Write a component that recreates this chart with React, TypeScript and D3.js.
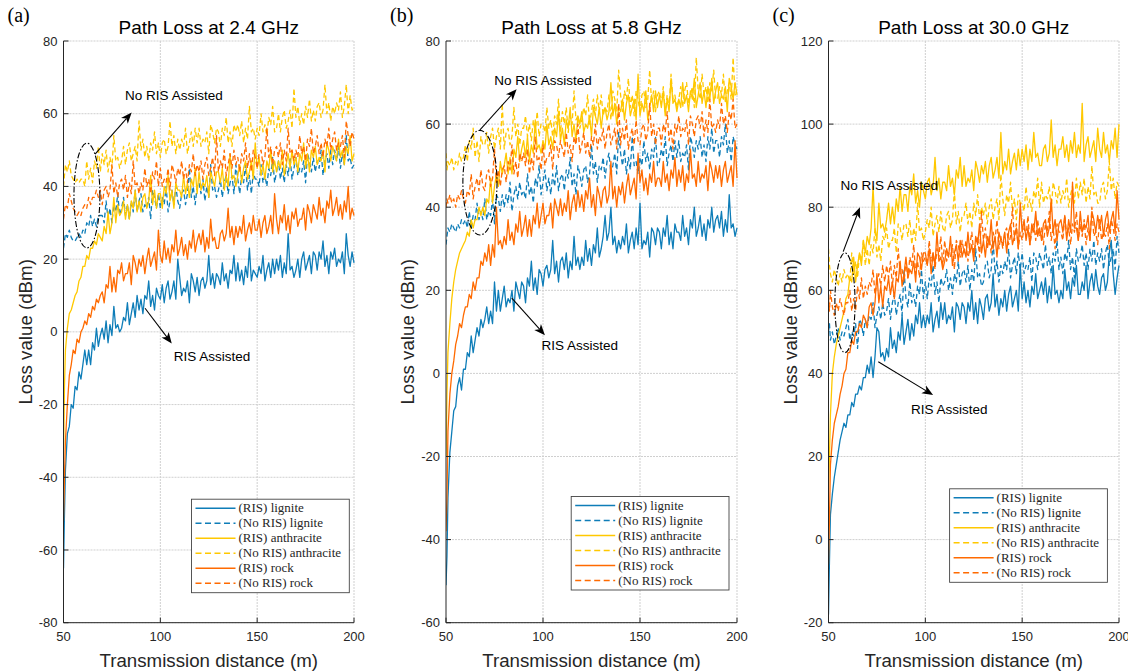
import React from "react";
import * as d3 from "d3";

// distances (m): a few dense samples near the transmitter, then every 1 m
const nearDistance = [50, 50.5, 51, 52, 53, 54, 55, 56, 57, 58, 59];
const distance = [...nearDistance, ...d3.range(60, 201, 1)];

const seriesNames = [
  "(RIS) lignite",
  "(No RIS) lignite",
  "(RIS) anthracite",
  "(No RIS) anthracite",
  "(RIS) rock",
  "(No RIS) rock",
];

const xTicks = [50, 100, 150, 200];
const yTicksA = [-80, -60, -40, -20, 0, 20, 40, 60, 80];
const yTicksB = [-60, -40, -20, 0, 20, 40, 60, 80];
const yTicksC = [-20, 0, 20, 40, 60, 80, 100, 120];

// ---- (a) 2.4 GHz ----
const aRisLignite = [
  -65, -50, -38, -28, -26, -20, -21, -15, -16, -11, -13,
  -9, -5, -9, -5, -9, -3, -5, 1, -4, -1,
  1, -2, 3, -3, 2, -1, 7, 1, 2, 0,
  1, 4, 3, 8, 2, 5, 8, 4, 10, 6,
  9, 5, 10, 9, 14, 7, 10, 6, 12, 10,
  9, 13, 8, 12, 14, 9, 11, 14, 9, 20,
  15, 10, 12, 11, 14, 8, 16, 14, 11, 15,
  10, 14, 15, 12, 14, 21, 13, 16, 12, 16,
  15, 13, 19, 14, 16, 12, 17, 16, 21, 14,
  19, 14, 17, 13, 18, 15, 23, 14, 17, 16,
  15, 18, 16, 21, 14, 17, 19, 15, 20, 16,
  20, 17, 21, 15, 19, 16, 27, 17, 18, 15,
  17, 20, 15, 20, 22, 17, 19, 21, 16, 22,
  21, 17, 22, 20, 25, 18, 21, 16, 22, 20,
  23, 18, 20, 19, 22, 16, 27, 21, 18, 22,
  19,
];
const aNoLignite = [
  23, 25, 27, 26, 28, 26, 25, 25, 26, 27, 26,
  28, 27, 30, 29, 32, 29, 31, 29, 32, 32,
  32, 30, 36, 31, 34, 30, 35, 33, 38, 32,
  34, 37, 32, 35, 31, 36, 33, 39, 33, 36,
  38, 33, 35, 34, 37, 31, 39, 37, 34, 38,
  34, 37, 35, 40, 33, 36, 39, 35, 40, 36,
  34, 38, 39, 35, 38, 45, 37, 40, 35, 40,
  41, 38, 42, 36, 40, 37, 46, 39, 40, 37,
  39, 42, 37, 41, 43, 38, 41, 43, 38, 46,
  42, 38, 43, 41, 46, 39, 43, 38, 44, 42,
  42, 40, 46, 41, 43, 40, 45, 43, 48, 41,
  44, 47, 42, 45, 41, 46, 43, 48, 42, 45,
  48, 43, 45, 44, 47, 41, 49, 47, 44, 48,
  44, 47, 45, 50, 43, 47, 49, 45, 50, 46,
  50, 47, 51, 45, 49, 46, 54, 47, 48, 45,
  46,
];
const aRisAnthracite = [
  -35, -15, -5, 1, 5, 6, 8, 10, 11, 14, 15,
  18, 18, 21, 20, 23, 23, 25, 24, 27, 26,
  25, 29, 27, 33, 27, 30, 37, 30, 35, 32,
  33, 36, 31, 35, 31, 36, 34, 39, 33, 36,
  33, 37, 38, 34, 36, 43, 35, 39, 34, 38,
  38, 34, 40, 38, 43, 36, 39, 34, 41, 39,
  39, 37, 43, 38, 41, 37, 42, 40, 45, 38,
  44, 39, 41, 40, 43, 37, 44, 42, 40, 44,
  44, 41, 45, 39, 43, 40, 49, 42, 43, 40,
  43, 46, 41, 45, 47, 42, 44, 47, 42, 52,
  45, 48, 43, 46, 42, 47, 45, 50, 44, 47,
  44, 47, 45, 50, 43, 46, 49, 45, 50, 46,
  48, 44, 49, 47, 52, 45, 49, 44, 50, 48,
  51, 46, 48, 47, 50, 44, 52, 50, 47, 51,
  49, 47, 53, 48, 50, 46, 51, 49, 54, 47,
  49,
];
const aNoAnthracite = [
  40, 43, 46, 44, 47, 43, 42, 41, 42, 41, 42,
  42, 40, 47, 42, 45, 41, 47, 45, 51, 44,
  49, 46, 50, 44, 48, 45, 54, 47, 48, 45,
  47, 51, 46, 50, 52, 47, 49, 51, 47, 58,
  50, 53, 48, 51, 47, 52, 50, 55, 49, 52,
  48, 52, 53, 49, 51, 58, 51, 54, 49, 53,
  50, 53, 51, 56, 49, 52, 55, 51, 56, 52,
  56, 51, 53, 52, 55, 49, 57, 55, 52, 56,
  55, 51, 56, 54, 59, 52, 55, 51, 57, 55,
  57, 54, 58, 52, 56, 53, 62, 55, 56, 53,
  56, 54, 60, 55, 57, 54, 59, 57, 62, 55,
  56, 60, 55, 59, 61, 56, 58, 61, 56, 67,
  59, 62, 57, 60, 57, 62, 59, 64, 58, 61,
  58, 62, 63, 59, 61, 68, 60, 63, 58, 62,
  60, 63, 61, 66, 59, 62, 68, 60, 65, 61,
  62,
];
const aRisRock = [
  -52, -40, -30, -20, -12, -9, -5, -6, -2, -3, 0,
  1, 3, 2, 5, 4, 7, 6, 9, 8, 10,
  11, 8, 13, 12, 18, 11, 15, 11, 17, 16,
  19, 14, 16, 16, 19, 13, 21, 19, 16, 20,
  18, 21, 16, 20, 23, 18, 20, 22, 17, 28,
  21, 19, 25, 20, 23, 19, 24, 22, 28, 21,
  23, 26, 21, 24, 20, 25, 23, 28, 22, 25,
  27, 24, 28, 22, 26, 23, 31, 25, 26, 23,
  23, 27, 28, 25, 27, 34, 26, 29, 24, 29,
  26, 29, 27, 32, 25, 28, 30, 27, 32, 28,
  28, 31, 26, 30, 32, 27, 29, 32, 27, 38,
  31, 27, 32, 30, 35, 28, 32, 27, 33, 31,
  34, 29, 31, 31, 34, 28, 35, 33, 30, 35,
  33, 31, 37, 32, 34, 30, 36, 34, 39, 32,
  34, 37, 32, 35, 31, 36, 33, 40, 31, 34,
  32,
];
const aNoRock = [
  31, 33, 35, 34, 38, 36, 34, 33, 32, 33, 32,
  34, 35, 34, 37, 35, 37, 37, 39, 37, 39,
  35, 39, 40, 37, 39, 46, 38, 41, 37, 41,
  42, 39, 43, 37, 41, 38, 47, 40, 41, 38,
  41, 39, 45, 40, 42, 38, 44, 42, 47, 40,
  45, 40, 42, 41, 45, 39, 46, 44, 41, 45,
  43, 47, 42, 45, 41, 46, 44, 49, 43, 46,
  44, 47, 42, 46, 48, 43, 45, 48, 43, 54,
  44, 47, 45, 50, 43, 46, 49, 45, 50, 46,
  48, 44, 49, 47, 52, 45, 49, 44, 50, 48,
  45, 49, 50, 46, 48, 56, 48, 51, 46, 50,
  51, 48, 52, 46, 50, 47, 56, 49, 50, 47,
  50, 48, 54, 49, 51, 47, 53, 51, 56, 49,
  51, 54, 49, 52, 48, 53, 51, 56, 50, 53,
  55, 50, 52, 51, 54, 48, 58, 54, 51, 55,
  53,
];

// ---- (b) 5.8 GHz ----
const bRisLignite = [
  -51, -44, -30, -19, -14, -9, -8, -3, -1, -4, 1,
  1, 5, 4, 9, 5, 8, 11, 9, 13, 11,
  13, 16, 12, 15, 12, 22, 15, 20, 15, 18,
  21, 16, 18, 17, 20, 15, 22, 20, 18, 22,
  21, 17, 23, 21, 27, 20, 23, 19, 25, 24,
  21, 25, 26, 23, 25, 32, 24, 27, 22, 27,
  28, 25, 29, 23, 27, 25, 33, 26, 28, 25,
  28, 26, 32, 27, 30, 26, 31, 29, 35, 28,
  30, 33, 38, 32, 34, 40, 31, 33, 29, 32,
  30, 33, 31, 36, 29, 32, 34, 30, 35, 31,
  41, 30, 32, 31, 34, 28, 35, 34, 31, 35,
  34, 30, 35, 33, 38, 31, 34, 30, 36, 34,
  34, 32, 38, 33, 35, 31, 37, 35, 40, 33,
  35, 38, 33, 36, 32, 37, 35, 40, 34, 37,
  38, 35, 39, 33, 37, 34, 43, 35, 36, 33,
  35,
];
const bNoLignite = [
  31, 33, 35, 34, 36, 35, 34, 36, 35, 37, 36,
  37, 35, 39, 35, 38, 37, 41, 37, 39, 37,
  42, 37, 39, 38, 42, 36, 43, 42, 39, 43,
  40, 43, 41, 46, 39, 43, 45, 42, 46, 43,
  44, 42, 48, 43, 45, 41, 47, 45, 50, 43,
  46, 49, 44, 47, 43, 48, 45, 50, 44, 47,
  48, 44, 49, 47, 52, 45, 48, 43, 50, 48,
  45, 49, 50, 46, 48, 55, 48, 51, 46, 50,
  49, 52, 47, 51, 53, 48, 50, 53, 48, 58,
  53, 50, 54, 48, 52, 49, 57, 50, 51, 48,
  52, 50, 56, 51, 53, 49, 54, 52, 57, 50,
  51, 54, 52, 57, 50, 53, 55, 51, 56, 52,
  56, 51, 53, 52, 55, 49, 57, 55, 52, 56,
  54, 57, 52, 55, 51, 57, 54, 59, 53, 56,
  56, 52, 57, 55, 60, 53, 56, 51, 57, 55,
  54,
];
const bRisAnthracite = [
  -20, -5, 5, 12, 18, 22, 25, 27, 29, 30, 31,
  32, 34, 33, 37, 35, 37, 37, 40, 38, 40,
  38, 42, 41, 47, 41, 45, 48, 45, 51, 48,
  50, 53, 48, 52, 48, 54, 52, 57, 51, 54,
  56, 52, 57, 51, 55, 53, 61, 54, 55, 53,
  56, 54, 60, 55, 57, 54, 59, 57, 63, 56,
  59, 55, 61, 59, 64, 57, 60, 56, 62, 60,
  63, 58, 60, 59, 62, 57, 64, 62, 60, 64,
  59, 63, 64, 61, 63, 70, 62, 65, 60, 64,
  63, 66, 61, 65, 67, 62, 64, 66, 61, 72,
  62, 65, 63, 68, 61, 64, 67, 63, 68, 64,
  67, 64, 68, 62, 66, 63, 71, 65, 66, 63,
  66, 64, 70, 65, 67, 63, 68, 66, 71, 64,
  67, 70, 65, 68, 64, 69, 66, 71, 65, 68,
  70, 65, 67, 66, 69, 63, 71, 69, 66, 70,
  67,
];
const bNoAnthracite = [
  53, 49, 51, 50, 52, 49, 51, 50, 53, 51, 52,
  55, 51, 56, 54, 59, 52, 56, 51, 57, 55,
  55, 58, 53, 57, 59, 54, 57, 59, 54, 65,
  54, 58, 59, 55, 57, 64, 57, 60, 55, 59,
  59, 62, 57, 60, 56, 61, 58, 63, 57, 60,
  60, 58, 64, 59, 61, 57, 62, 60, 66, 58,
  63, 60, 64, 58, 62, 60, 68, 61, 62, 59,
  61, 64, 62, 67, 60, 63, 66, 62, 67, 63,
  67, 62, 64, 63, 67, 61, 68, 66, 63, 73,
  67, 63, 68, 66, 71, 64, 67, 62, 68, 66,
  63, 67, 68, 64, 66, 73, 65, 68, 63, 67,
  68, 65, 69, 63, 67, 64, 72, 66, 67, 64,
  66, 69, 64, 68, 70, 65, 67, 69, 64, 76,
  68, 66, 72, 67, 69, 65, 70, 68, 73, 66,
  66, 69, 67, 72, 65, 68, 70, 66, 76, 67,
  68,
];
const bRisRock = [
  -38, -30, -14, -5, 0, 3, 7, 9, 12, 11, 14,
  16, 16, 19, 18, 22, 20, 23, 23, 27, 26,
  29, 27, 31, 26, 31, 28, 40, 31, 32, 30,
  33, 31, 37, 32, 34, 31, 36, 34, 39, 33,
  35, 38, 33, 37, 33, 38, 36, 41, 35, 38,
  41, 36, 38, 38, 41, 35, 42, 40, 38, 42,
  38, 41, 39, 44, 37, 41, 43, 39, 44, 40,
  43, 39, 44, 42, 47, 40, 43, 38, 45, 43,
  40, 44, 45, 41, 43, 51, 42, 45, 40, 45,
  43, 46, 41, 45, 48, 43, 45, 47, 42, 53,
  46, 49, 44, 47, 43, 48, 46, 51, 45, 47,
  47, 45, 51, 46, 48, 44, 49, 47, 52, 45,
  49, 46, 50, 44, 48, 46, 54, 47, 48, 45,
  51, 46, 48, 47, 50, 44, 51, 49, 46, 50,
  47, 50, 45, 49, 51, 46, 48, 50, 45, 56,
  47,
];
const bNoRock = [
  40, 42, 41, 43, 41, 42, 40, 43, 42, 44, 42,
  41, 44, 43, 48, 42, 45, 47, 44, 49, 45,
  44, 48, 49, 45, 47, 54, 46, 49, 45, 49,
  50, 46, 51, 49, 55, 48, 51, 47, 53, 51,
  53, 50, 54, 48, 52, 49, 57, 51, 52, 49,
  55, 50, 52, 52, 55, 49, 56, 55, 52, 56,
  54, 52, 58, 53, 55, 51, 57, 55, 60, 53,
  55, 58, 53, 56, 52, 57, 55, 60, 54, 57,
  56, 59, 54, 58, 60, 55, 57, 59, 54, 65,
  55, 59, 56, 61, 54, 57, 59, 55, 61, 56,
  55, 59, 60, 56, 58, 65, 57, 60, 55, 59,
  59, 55, 60, 58, 63, 56, 59, 54, 60, 58,
  62, 57, 59, 58, 61, 55, 62, 60, 57, 61,
  62, 59, 63, 57, 61, 58, 66, 59, 60, 58,
  61, 59, 65, 60, 62, 58, 63, 61, 66, 59,
  60,
];

// ---- (c) 30.0 GHz ----
const cRisLignite = [
  -18, -5, 6, 11, 15, 18, 21, 24, 26, 28, 27,
  30, 30, 33, 32, 35, 35, 37, 36, 39, 39,
  42, 40, 44, 39, 44, 51, 50, 44, 45, 43,
  46, 44, 51, 46, 48, 45, 50, 48, 54, 47,
  50, 53, 48, 52, 49, 54, 52, 57, 51, 54,
  51, 54, 52, 57, 50, 53, 55, 51, 57, 53,
  57, 52, 54, 53, 56, 50, 57, 56, 53, 57,
  56, 52, 57, 55, 60, 53, 57, 52, 58, 56,
  53, 58, 59, 55, 57, 64, 56, 59, 54, 58,
  56, 60, 55, 59, 61, 56, 58, 60, 55, 66,
  58, 62, 57, 60, 56, 61, 59, 64, 58, 60,
  62, 59, 63, 57, 61, 58, 66, 59, 60, 57,
  60, 58, 65, 60, 62, 58, 63, 61, 66, 59,
  59, 62, 60, 66, 58, 62, 64, 60, 65, 61,
  59, 63, 64, 60, 62, 69, 72, 64, 59, 63,
  66,
];
const cNoLignite = [
  50, 52, 48, 50, 47, 49, 51, 48, 50, 49, 51,
  53, 48, 50, 49, 52, 46, 53, 52, 49, 53,
  51, 54, 53, 57, 51, 54, 56, 53, 57, 54,
  55, 58, 53, 57, 59, 54, 57, 59, 54, 65,
  58, 56, 62, 57, 59, 56, 61, 59, 65, 58,
  62, 58, 63, 61, 66, 59, 62, 57, 63, 61,
  62, 65, 60, 63, 59, 64, 62, 67, 61, 64,
  65, 62, 66, 60, 65, 62, 70, 63, 64, 61,
  62, 66, 67, 63, 65, 72, 64, 67, 62, 66,
  64, 67, 65, 70, 63, 66, 68, 64, 69, 65,
  69, 64, 66, 65, 68, 62, 69, 68, 65, 69,
  67, 65, 71, 66, 68, 64, 69, 67, 72, 65,
  68, 64, 69, 67, 72, 65, 68, 63, 70, 67,
  68, 71, 66, 69, 65, 70, 67, 72, 66, 69,
  67, 70, 65, 69, 71, 66, 68, 70, 65, 73,
  69,
];
const cRisAnthracite = [
  12, 20, 30, 40, 44, 47, 49, 51, 53, 55, 58,
  59, 63, 62, 68, 62, 66, 69, 66, 72, 69,
  73, 71, 75, 85, 75, 72, 81, 75, 76, 74,
  77, 81, 76, 80, 76, 82, 79, 85, 79, 83,
  83, 79, 85, 83, 88, 81, 84, 80, 86, 84,
  82, 86, 87, 83, 85, 92, 84, 87, 82, 86,
  86, 84, 90, 85, 87, 83, 89, 87, 92, 85,
  90, 85, 87, 86, 89, 84, 91, 89, 86, 90,
  88, 91, 86, 90, 92, 87, 89, 92, 87, 98,
  88, 91, 89, 94, 88, 91, 93, 89, 94, 90,
  94, 91, 95, 89, 94, 91, 98, 92, 93, 90,
  90, 94, 95, 91, 93, 101, 92, 95, 90, 94,
  94, 97, 92, 95, 91, 96, 93, 98, 92, 95,
  93, 105, 91, 95, 97, 92, 94, 96, 91, 99,
  94, 92, 98, 93, 95, 91, 96, 94, 99, 92,
  100,
];
const cNoAnthracite = [
  70, 66, 64, 62, 65, 63, 61, 64, 62, 65, 63,
  64, 62, 69, 64, 67, 63, 69, 67, 72, 66,
  70, 66, 71, 69, 75, 68, 71, 67, 73, 72,
  75, 70, 72, 72, 75, 69, 76, 75, 72, 76,
  76, 73, 77, 71, 75, 72, 81, 74, 75, 72,
  74, 77, 75, 80, 73, 76, 78, 74, 79, 75,
  74, 78, 79, 75, 77, 84, 76, 79, 74, 78,
  78, 81, 76, 79, 75, 81, 78, 83, 77, 80,
  78, 81, 76, 80, 82, 77, 80, 82, 77, 88,
  82, 78, 83, 81, 86, 79, 82, 77, 83, 81,
  81, 79, 85, 80, 82, 79, 84, 82, 87, 80,
  86, 81, 83, 82, 85, 79, 86, 84, 81, 85,
  81, 84, 82, 87, 80, 83, 85, 81, 87, 82,
  86, 83, 87, 81, 85, 82, 90, 83, 84, 81,
  81, 85, 86, 82, 84, 91, 84, 87, 82, 86,
  85,
];
const cRisRock = [
  -6, 5, 18, 24, 28, 30, 32, 35, 37, 40, 41,
  45, 45, 48, 47, 50, 50, 52, 51, 54, 53,
  51, 56, 57, 54, 57, 64, 57, 61, 56, 61,
  60, 63, 59, 62, 58, 63, 62, 67, 61, 64,
  68, 63, 65, 64, 67, 62, 69, 68, 65, 69,
  69, 66, 70, 64, 69, 66, 74, 67, 68, 65,
  67, 70, 68, 73, 66, 69, 71, 67, 72, 68,
  70, 68, 74, 69, 71, 67, 73, 71, 76, 69,
  72, 68, 73, 71, 77, 70, 73, 68, 74, 72,
  71, 74, 69, 74, 76, 71, 73, 75, 70, 81,
  74, 77, 72, 75, 71, 76, 74, 79, 73, 75,
  72, 76, 77, 73, 75, 82, 74, 77, 72, 76,
  77, 74, 78, 72, 77, 74, 86, 75, 75, 72,
  79, 74, 76, 75, 78, 72, 79, 77, 74, 78,
  75, 78, 73, 77, 79, 74, 77, 79, 74, 84,
  77,
];
const cNoRock = [
  58, 55, 60, 56, 54, 57, 55, 58, 56, 54, 57,
  57, 60, 55, 58, 55, 61, 58, 63, 58, 61,
  59, 62, 61, 65, 59, 62, 64, 61, 66, 62,
  66, 63, 67, 61, 66, 63, 70, 64, 65, 62,
  67, 63, 68, 66, 71, 64, 67, 63, 69, 67,
  68, 66, 72, 67, 69, 65, 70, 68, 73, 66,
  72, 67, 69, 68, 71, 65, 72, 71, 68, 72,
  69, 72, 67, 71, 74, 69, 71, 73, 68, 79,
  72, 75, 70, 73, 69, 74, 72, 77, 70, 73,
  70, 74, 75, 71, 73, 80, 72, 76, 70, 74,
  72, 75, 73, 78, 71, 74, 76, 72, 77, 73,
  75, 71, 76, 74, 79, 72, 75, 70, 76, 74,
  74, 72, 78, 73, 75, 71, 76, 74, 79, 72,
  76, 73, 77, 71, 75, 72, 80, 73, 74, 71,
  77, 72, 74, 73, 76, 70, 77, 75, 72, 76,
  74,
];

const lineColors = ["#0e7db8", "#0e7db8", "#ffc800", "#ffc800", "#ff6a00", "#ff6a00"];
const SANS = "'Liberation Sans', Arial, Helvetica, sans-serif";
const SERIF = "'Liberation Serif', 'Times New Roman', serif";
const TOP = 41;
const BOTTOM = 622.7;

const panels = [
  {
    letter: "(a)", title: "Path Loss at 2.4 GHz", left: 63.5, right: 354,
    yDomain: [-80, 80], yTicks: yTicksA,
    series: [aRisLignite, aNoLignite, aRisAnthracite, aNoAnthracite, aRisRock, aNoRock],
    ellipse: [62.1, 37.5, 6.7, 14.4], noArrow: [66.3, 48.9, 85.2, 60.3], noText: [107, 65.1],
    risArrow: [92.1, 6.5, 105.9, -3.2], risText: [126.7, -6.6], legendInset: [4.7, 30],
  },
  {
    letter: "(b)", title: "Path Loss at 5.8 GHz", left: 446, right: 737,
    yDomain: [-60, 80], yTicks: yTicksB,
    series: [bRisLignite, bNoLignite, bRisAnthracite, bNoAnthracite, bRisRock, bNoRock],
    ellipse: [67.5, 45.9, 8.8, 12.6], noArrow: [67.5, 58.6, 86.4, 68.4], noText: [100, 70.6],
    risArrow: [83.9, 18.1, 101, 9.2], risText: [118.9, 6.8], legendInset: [8, 32.7],
  },
  {
    letter: "(c)", title: "Path Loss at 30.0 GHz", left: 828.5, right: 1119,
    yDomain: [-20, 120], yTicks: yTicksC,
    series: [cRisLignite, cNoLignite, cRisAnthracite, cNoAnthracite, cRisRock, cNoRock],
    ellipse: [58.5, 57, 5.2, 12], noArrow: [57.6, 69.3, 66.2, 80], noText: [81.4, 85.3],
    risArrow: [75.7, 42.8, 104, 34.8], risText: [112.4, 31.4], legendInset: [11.6, 40.4],
  },
];

function arrowHead(x1: number, y1: number, x2: number, y2: number) {
  const a = Math.atan2(y2 - y1, x2 - x1);
  const c = Math.cos(a), s = Math.sin(a);
  const L = 11, W = 4.5, notch = 3;
  const bx = x2 - L * c, by = y2 - L * s;
  const nx = x2 - (L - notch) * c, ny = y2 - (L - notch) * s;
  return `M${x2},${y2}L${bx - W * s},${by + W * c}L${nx},${ny}L${bx + W * s},${by - W * c}Z`;
}

function Arrow({ x1, y1, x2, y2 }: { x1: number; y1: number; x2: number; y2: number }) {
  const a = Math.atan2(y2 - y1, x2 - x1);
  return (
    <g>
      <line x1={x1} y1={y1} x2={x2 - 8 * Math.cos(a)} y2={y2 - 8 * Math.sin(a)} stroke="#000" strokeWidth={1.1} />
      <path d={arrowHead(x1, y1, x2, y2)} fill="#000" />
    </g>
  );
}

function Panel({ p, idx }: { p: any; idx: number }) {
  const x = d3.scaleLinear().domain([50, 200]).range([p.left, p.right]);
  const y = d3.scaleLinear().domain(p.yDomain).range([BOTTOM, TOP]);
  const line = d3
    .line<number>()
    .x((_, i) => x(distance[i]))
    .y((v) => y(v));
  const midX = (p.left + p.right) / 2;
  const midY = (TOP + BOTTOM) / 2;
  const [ex, ey, erx, ery] = p.ellipse;
  const lw = 157.8, lh = 93.5;
  const lx = p.right - p.legendInset[0] - lw;
  const ly = BOTTOM - p.legendInset[1] - lh;
  const clipId = `clip-${idx}`;

  return (
    <g>
      <defs>
        <clipPath id={clipId}>
          <rect x={p.left} y={TOP - 1} width={p.right - p.left + 1} height={BOTTOM - TOP + 2} />
        </clipPath>
      </defs>
      {/* grid */}
      {p.yTicks.map((t: number) => (
        <line key={"gy" + t} x1={p.left} x2={p.right} y1={y(t)} y2={y(t)} stroke="#cfcfcf" strokeWidth={1} strokeDasharray="2,1" />
      ))}
      {xTicks.slice(1).map((t) => (
        <line key={"gx" + t} x1={x(t)} x2={x(t)} y1={TOP} y2={BOTTOM} stroke="#cfcfcf" strokeWidth={1} strokeDasharray="2,1" />
      ))}
      {/* series */}
      <g clipPath={`url(#${clipId})`}>
        {p.series.map((vals: number[], i: number) => (
          <path
            key={i}
            d={line(vals.slice(0, distance.length)) || ""}
            fill="none"
            stroke={lineColors[i]}
            strokeWidth={1.3}
            strokeDasharray={i % 2 === 1 ? "5,3" : undefined}
            strokeLinejoin="round"
          />
        ))}
      </g>
      {/* axes */}
      <line x1={p.left} x2={p.left} y1={TOP} y2={BOTTOM} stroke="#262626" strokeWidth={1} />
      <line x1={p.left} x2={p.right} y1={BOTTOM} y2={BOTTOM} stroke="#262626" strokeWidth={1} />
      {p.yTicks.map((t: number) => (
        <g key={"ty" + t}>
          <line x1={p.left} x2={p.left + 5} y1={y(t)} y2={y(t)} stroke="#262626" />
          <text x={p.left - 6} y={y(t)} dy="0.35em" textAnchor="end" fontSize={13} fontFamily={SANS} fill="#262626">
            {t}
          </text>
        </g>
      ))}
      {xTicks.map((t) => (
        <g key={"tx" + t}>
          <line x1={x(t)} x2={x(t)} y1={BOTTOM} y2={BOTTOM - 5} stroke="#262626" />
          <text x={x(t)} y={BOTTOM + 14} dy="0.35em" textAnchor="middle" fontSize={13} fontFamily={SANS} fill="#262626">
            {t}
          </text>
        </g>
      ))}
      <text x={midX} y={660} dy="0.35em" textAnchor="middle" fontSize={18.7} fontFamily={SANS} fill="#262626">
        Transmission distance (m)
      </text>
      <text
        transform={`translate(${p.left - 38.5},${midY}) rotate(-90)`}
        textAnchor="middle"
        dy="0.35em"
        fontSize={18.7}
        fontFamily={SANS}
        fill="#262626"
      >
        Loss value (dBm)
      </text>
      <text x={midX} y={27} dy="0.35em" textAnchor="middle" fontSize={19} fontFamily={SANS} fill="#000">
        {p.title}
      </text>
      <text x={p.left - 56} y={22} fontSize={20} fontFamily={SERIF} fill="#000">
        {p.letter}
      </text>
      {/* annotations */}
      <ellipse
        cx={x(ex)}
        cy={y(ey)}
        rx={x(ex + erx) - x(ex)}
        ry={y(ey - ery) - y(ey)}
        fill="none"
        stroke="#000"
        strokeWidth={1.1}
        strokeDasharray="6,2,1.5,2"
      />
      <Arrow x1={x(p.noArrow[0])} y1={y(p.noArrow[1])} x2={x(p.noArrow[2])} y2={y(p.noArrow[3])} />
      <Arrow x1={x(p.risArrow[0])} y1={y(p.risArrow[1])} x2={x(p.risArrow[2])} y2={y(p.risArrow[3])} />
      <text x={x(p.noText[0])} y={y(p.noText[1])} dy="0.35em" textAnchor="middle" fontSize={13.5} fontFamily={SANS} fill="#000">
        No RIS Assisted
      </text>
      <text x={x(p.risText[0])} y={y(p.risText[1])} dy="0.35em" textAnchor="middle" fontSize={13.5} fontFamily={SANS} fill="#000">
        RIS Assisted
      </text>
      {/* legend */}
      <rect x={lx} y={ly} width={lw} height={lh} fill="#fff" stroke="#444" strokeWidth={0.9} />
      {seriesNames.map((name, i) => {
        const ry = ly + 9 + i * 15;
        return (
          <g key={name}>
            <line
              x1={lx + 4}
              x2={lx + 44}
              y1={ry}
              y2={ry}
              stroke={lineColors[i]}
              strokeWidth={1.6}
              strokeDasharray={i % 2 === 1 ? "6,3.5" : undefined}
            />
            <text x={lx + 47} y={ry} dy="0.33em" fontSize={13} fontFamily={SERIF} fill="#262626">
              {name}
            </text>
          </g>
        );
      })}
    </g>
  );
}

export default function App() {
  return (
    <svg
      width={1128}
      height={672}
      style={{ position: "absolute", left: 0, top: 0, background: "#fff", display: "block" }}
    >
      <rect width={1128} height={672} fill="#fff" />
      {panels.map((p, i) => (
        <Panel key={p.letter} p={p} idx={i} />
      ))}
    </svg>
  );
}
